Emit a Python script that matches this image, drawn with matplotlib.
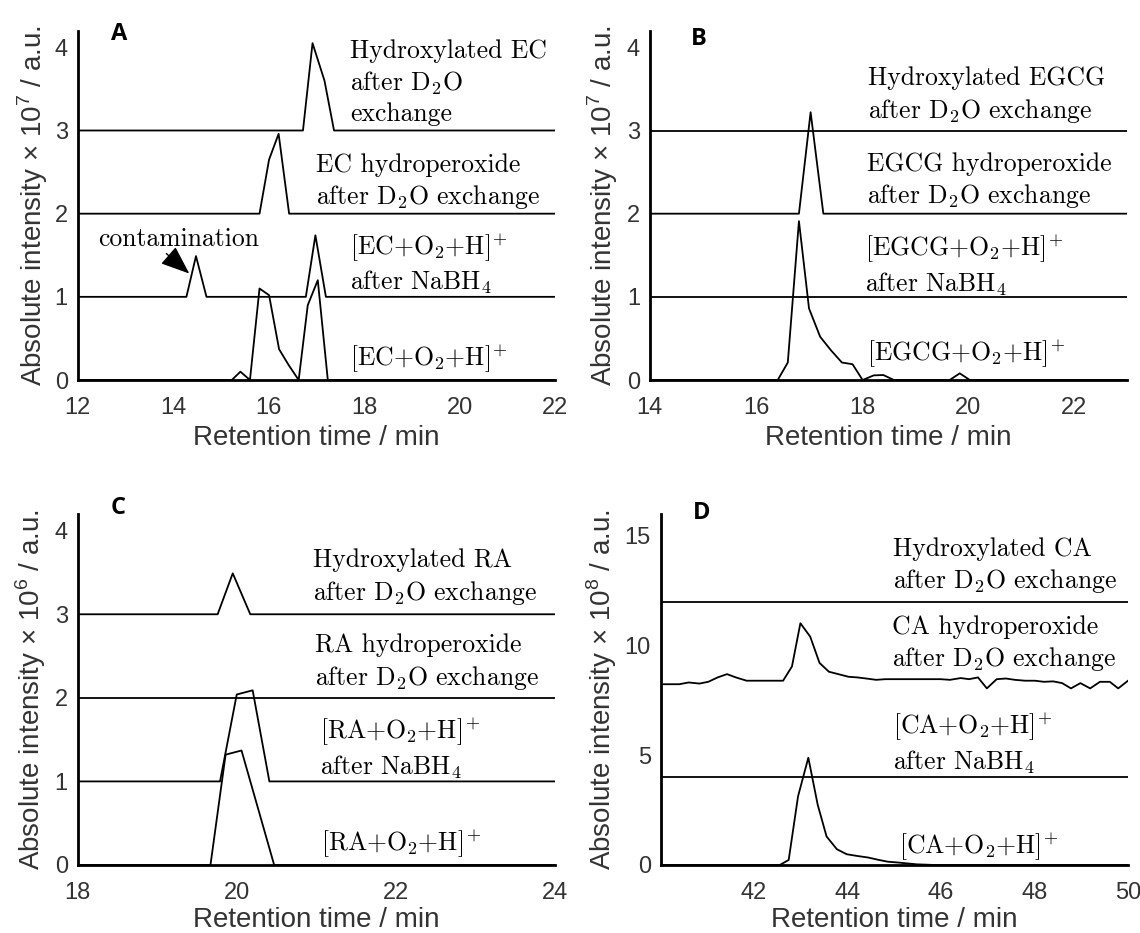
import matplotlib
matplotlib.use("Agg")
import matplotlib.pyplot as plt

# 全体のフォント設定（軸はArial相当、注記はComputer Modern）
plt.rcParams['font.family'] = ['Liberation Sans', 'DejaVu Sans']
plt.rcParams['axes.unicode_minus'] = False

# ---- A: EC ----
a_hydrox_t = [12, 16.72, 16.92, 17.17, 17.37, 22]
a_hydrox_y = [0, 0, 1.05, 0.60, 0, 0]
a_hperox_t = [12, 15.81, 16.01, 16.21, 16.43, 22]
a_hperox_y = [0, 0, 0.65, 0.96, 0, 0]
a_nabh4_t = [12, 14.28, 14.48, 14.70, 16.78, 16.98, 17.20, 22]
a_nabh4_y = [0, 0, 0.49, 0, 0, 0.74, 0, 0]
a_raw_t = [12, 15.23, 15.41, 15.61, 15.81, 16.01, 16.22, 16.42, 16.63, 16.82, 17.03, 17.24, 22]
a_raw_y = [0, 0, 0.10, 0, 1.10, 1.02, 0.37, 0.18, 0, 0.90, 1.20, 0, 0]

# ---- B: EGCG ----
b_hydrox_t = [14, 23]
b_hydrox_y = [0, 0]
b_hperox_t = [14, 16.81, 17.03, 17.27, 23]
b_hperox_y = [0, 0, 1.22, 0, 0]
b_nabh4_t = [14, 23]
b_nabh4_y = [0, 0]
b_raw_t = [14, 16.41, 16.60, 16.81, 17.00, 17.21, 17.41, 17.62, 17.82, 18.01,
           18.22, 18.40, 18.60, 19.65, 19.84, 20.03, 23]
b_raw_y = [0, 0, 0.21, 1.91, 0.86, 0.52, 0.36, 0.21, 0.19, 0,
           0.056, 0.06, 0, 0, 0.08, 0, 0]

# ---- C: RA ----
c_hydrox_t = [18, 19.76, 19.95, 20.17, 24]
c_hydrox_y = [0, 0, 0.49, 0, 0]
c_hperox_t = [18, 24]
c_hperox_y = [0, 0]
c_nabh4_t = [18, 19.79, 20.00, 20.20, 20.41, 24]
c_nabh4_y = [0, 0, 1.04, 1.09, 0, 0]
c_raw_t = [18, 19.67, 19.86, 20.06, 20.47, 24]
c_raw_y = [0, 0, 1.32, 1.37, 0, 0]

# ---- D: CA ----
d_hydrox_t = [40, 50]
d_hydrox_y = [0, 0]
d_hperox_t = [40.0, 40.4, 40.6, 40.83, 41.02, 41.22, 41.42, 41.61, 41.84, 42.23, 42.62, 42.81,
              42.99, 43.2, 43.4, 43.6, 43.8, 44.02, 44.21, 44.4, 44.61, 44.81, 45.22, 45.6,
              45.99, 46.19, 46.42, 46.6, 46.79, 46.98, 47.19, 47.39, 47.58, 47.8, 48.01,
              48.2, 48.4, 48.59, 48.78, 48.98, 49.19, 49.4, 49.61, 49.79, 50.0]
d_hperox_y = [0.24, 0.24, 0.32, 0.27, 0.35, 0.55, 0.70, 0.55, 0.40, 0.40, 0.40, 1.05,
              3.02, 2.41, 1.21, 0.81, 0.70, 0.58, 0.55, 0.50, 0.44, 0.47, 0.47, 0.47,
              0.47, 0.44, 0.52, 0.47, 0.55, 0.05, 0.47, 0.50, 0.44, 0.40, 0.40,
              0.35, 0.37, 0.29, 0.05, 0.29, 0.05, 0.35, 0.35, 0.05, 0.40]
d_nabh4_t = [40, 50]
d_nabh4_y = [0, 0]
d_raw_t = [40, 42.55, 42.74, 42.94, 43.16, 43.36, 43.55, 43.77, 43.98, 44.21, 44.44,
           44.67, 44.86, 45.09, 45.48, 45.86, 50]
d_raw_y = [0, 0, 0.23, 3.13, 4.89, 2.75, 1.30, 0.72, 0.49, 0.41, 0.34,
           0.23, 0.15, 0.11, 0.03, 0, 0]

# 各パネルのラベル文字列
ion = "[%s+O$_2$+H$]^{\\!+}$"
a_labels = ["Hydroxylated EC\nafter D$_2$O\nexchange",
            "EC hydroperoxide\nafter D$_2$O exchange",
            ion % "EC" + "\nafter NaBH$_4$",
            ion % "EC"]
b_labels = ["Hydroxylated EGCG\nafter D$_2$O exchange",
            "EGCG hydroperoxide\nafter D$_2$O exchange",
            ion % "EGCG" + "\nafter NaBH$_4$",
            ion % "EGCG"]
c_labels = ["Hydroxylated RA\nafter D$_2$O exchange",
            "RA hydroperoxide\nafter D$_2$O exchange",
            ion % "RA" + "\nafter NaBH$_4$",
            ion % "RA"]
d_labels = ["Hydroxylated CA\nafter D$_2$O exchange",
            "CA hydroperoxide\nafter D$_2$O exchange",
            ion % "CA" + "\nafter NaBH$_4$",
            ion % "CA"]

panels = [
    dict(letter="A", rect=[0.068, 0.5927, 0.419, 0.3744], xlim=(12, 22), ylim=(0, 4.2),
         xticks=[12, 14, 16, 18, 20, 22], yticks=[0, 1, 2, 3, 4], exp=7,
         traces=[(a_hydrox_t, a_hydrox_y), (a_hperox_t, a_hperox_y),
                 (a_nabh4_t, a_nabh4_y), (a_raw_t, a_raw_y)],
         offsets=[3, 2, 1, 0], labels=a_labels,
         label_pos=[(17.70, 3.57), (17.0, 2.38), (17.70, 1.40), (17.70, 0.26)],
         letter_pos=(0.07, 0.99), xlab_y=-0.167, ylab_x=-0.093),
    dict(letter="B", rect=[0.570, 0.5927, 0.419, 0.3744], xlim=(14, 23), ylim=(0, 4.2),
         xticks=[14, 16, 18, 20, 22], yticks=[0, 1, 2, 3, 4], exp=7,
         traces=[(b_hydrox_t, b_hydrox_y), (b_hperox_t, b_hperox_y),
                 (b_nabh4_t, b_nabh4_y), (b_raw_t, b_raw_y)],
         offsets=[3, 2, 1, 0], labels=b_labels,
         label_pos=[(18.11, 3.42), (18.10, 2.39), (18.05, 1.38), (18.10, 0.32)],
         letter_pos=(0.086, 0.976), xlab_y=-0.167, ylab_x=-0.099),
    dict(letter="C", rect=[0.068, 0.0729, 0.419, 0.3762], xlim=(18, 24), ylim=(0, 4.2),
         xticks=[18, 20, 22, 24], yticks=[0, 1, 2, 3, 4], exp=6,
         traces=[(c_hydrox_t, c_hydrox_y), (c_hperox_t, c_hperox_y),
                 (c_nabh4_t, c_nabh4_y), (c_raw_t, c_raw_y)],
         offsets=[3, 2, 1, 0], labels=c_labels,
         label_pos=[(20.96, 3.44), (20.98, 2.42), (21.04, 1.40), (21.06, 0.26)],
         letter_pos=(0.07, 1.018), xlab_y=-0.157, ylab_x=-0.097),
    dict(letter="D", rect=[0.5795, 0.0729, 0.4100, 0.3762], xlim=(40, 50), ylim=(0, 16),
         xticks=[42, 44, 46, 48, 50], yticks=[0, 5, 10, 15], exp=8,
         traces=[(d_hydrox_t, d_hydrox_y), (d_hperox_t, d_hperox_y),
                 (d_nabh4_t, d_nabh4_y), (d_raw_t, d_raw_y)],
         offsets=[12, 8, 4, 0], labels=d_labels,
         label_pos=[(44.98, 13.62), (44.95, 10.07), (44.98, 5.57), (45.10, 0.84)],
         letter_pos=(0.07, 1.004), xlab_y=-0.157, ylab_x=-0.1265),
]

fig = plt.figure(figsize=(11.4, 9.33), dpi=100)

for p in panels:
    ax = fig.add_axes(p["rect"])
    # トレースをオフセット付きで描画
    for (t, y), off in zip(p["traces"], p["offsets"]):
        ax.plot(t, [v + off for v in y], color="black", linewidth=1.3)
    # 注記ラベル（セリフ体）
    for txt, (x, y) in zip(p["labels"], p["label_pos"]):
        ax.text(x, y, txt, fontsize=18.5, family="cmr10", math_fontfamily="cm",
                ha="left", va="center", linespacing=1.3)
    ax.set_xlim(p["xlim"])
    ax.set_ylim(p["ylim"])
    ax.set_xticks(p["xticks"])
    ax.set_yticks(p["yticks"])
    ax.tick_params(length=0, labelsize=17, labelcolor="#333333")
    ax.tick_params(axis="x", pad=12)
    ax.tick_params(axis="y", pad=7)
    for s in ["top", "right"]:
        ax.spines[s].set_visible(False)
    for s in ["left", "bottom"]:
        ax.spines[s].set_linewidth(2)
    ax.set_xlabel("Retention time / min", fontsize=20, color="#333333", va="center")
    ax.xaxis.set_label_coords(0.5, p["xlab_y"])
    ax.set_ylabel("Absolute intensity × 10$^\\mathregular{%d}$ / a.u." % p["exp"],
                  fontsize=20, color="#333333", va="center")
    ax.yaxis.set_label_coords(p["ylab_x"], 0.5)
    ax.text(p["letter_pos"][0], p["letter_pos"][1], p["letter"], transform=ax.transAxes,
            fontsize=17, fontweight="bold", family="Open Sans", ha="left", va="center")
    if p["letter"] == "A":
        # contamination の矢印
        ax.text(12.43, 1.69, "contamination", fontsize=18.5, family="cmr10",
                ha="left", va="center")
        ax.annotate("", xy=(14.34, 1.28), xytext=(13.86, 1.52),
                    arrowprops=dict(arrowstyle="-|>,head_length=0.9,head_width=0.35",
                                    color="black", lw=1, mutation_scale=20,
                                    shrinkA=0, shrinkB=0))

plt.savefig("out.png", dpi=100)
plt.close()
